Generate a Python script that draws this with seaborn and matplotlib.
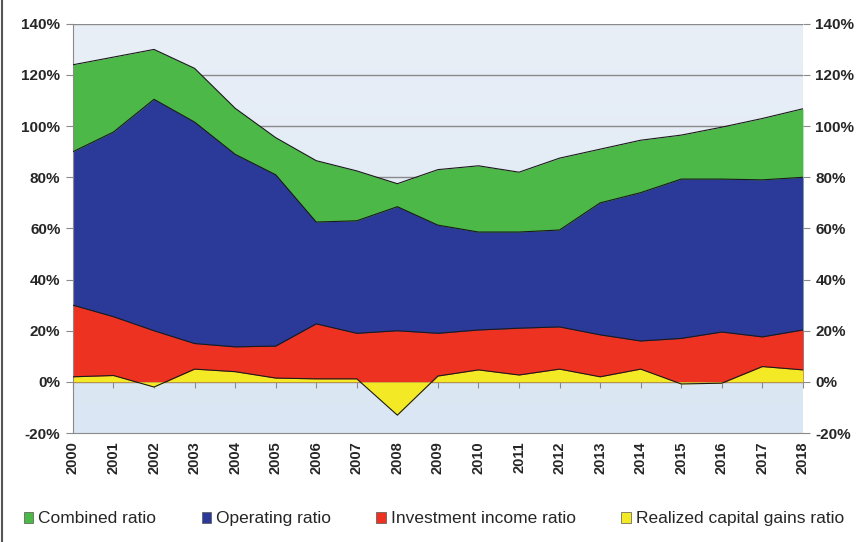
import numpy as np
import pandas as pd
import matplotlib.pyplot as plt
import seaborn as sns
from matplotlib.lines import Line2D
from matplotlib.patches import Patch

# values (percent)
years = list(range(2000, 2019))
combined = [124, 127, 130, 122.6, 107, 95.5, 86.5, 82.5, 77.5, 83, 84.5, 82, 87.5, 91, 94.5, 96.5, 99.6, 103, 106.8]
operating = [90, 97.7, 110.5, 101.6, 89, 81, 62.5, 63, 68.5, 61.3, 58.6, 58.6, 59.4, 70, 74, 79.3, 79.3, 79, 80]
investment = [30, 25.5, 20, 15, 13.7, 14, 22.7, 19, 20, 19, 20.3, 21, 21.5, 18.4, 16, 17, 19.5, 17.6, 20.3]
capital_gains = [2, 2.5, -2, 5, 4, 1.5, 1.2, 1.2, -13, 2.3, 4.7, 2.7, 5, 2, 5, -0.8, -0.5, 6, 4.7]

series_names = ["Combined ratio", "Operating ratio", "Investment income ratio", "Realized capital gains ratio"]
series_colors = ["#4cb848", "#2b3a98", "#ee3222", "#f3ea25"]
y_ticks = [-20, 0, 20, 40, 60, 80, 100, 120, 140]

df = pd.DataFrame({"year": years,
                   series_names[0]: combined,
                   series_names[1]: operating,
                   series_names[2]: investment,
                   series_names[3]: capital_gains})
df["pos"] = np.arange(len(df))

sns.set_style("white")
plt.rcParams["font.family"] = ["Liberation Sans", "DejaVu Sans"]

fig = plt.figure(figsize=(8.68, 5.42), dpi=100)
ax = fig.add_axes([0.084, 0.201, 0.841, 0.755])

# light blue gradient plot background (slightly deeper at the bottom)
grad = np.linspace(0, 1, 256).reshape(-1, 1)
ax.imshow(grad, extent=[0, 1, 0, 1], transform=ax.transAxes, aspect="auto", origin="lower",
          cmap=plt.matplotlib.colors.LinearSegmentedColormap.from_list("bg", ["#dae6f3", "#e9eff7"]),
          zorder=0)

for y in y_ticks[1:]:
    ax.axhline(y, color="#8a8a8a", lw=1, zorder=1)

for name, col in zip(series_names, series_colors):
    ax.fill_between(df["pos"], 0, df[name], color=col, lw=0, zorder=2)
    sns.lineplot(data=df, x="pos", y=name, color="#1a1a1a", lw=0.8, ax=ax, zorder=3)

ax.set_xlim(0, len(years) - 1)
ax.set_ylim(-20, 140)
ax.set_yticks(y_ticks)
ax.set_yticklabels([f"{v}%" for v in y_ticks], fontsize=11, fontweight="bold")
ax.set_xticks(df["pos"])
ax.set_xticklabels([str(y) for y in years], rotation=90, fontsize=10.5, fontweight="bold")
ax.tick_params(axis="x", length=0, pad=6)
ax.tick_params(axis="y", length=5, color="#8a8a8a", direction="out", left=True, pad=4)
ax.set_xlabel("")
ax.set_ylabel("")
for s in ["top", "right"]:
    ax.spines[s].set_visible(False)
for s in ["left", "bottom"]:
    ax.spines[s].set_color("#8a8a8a")

# category tick marks sit on the 0% line
sec = ax.secondary_xaxis(20 / 160)
sec.set_xticks(df["pos"])
sec.set_xticklabels([])
sec.tick_params(length=4, color="#8a8a8a", direction="out")
sec.spines["bottom"].set_visible(False)

ax2 = ax.twinx()
ax2.set_ylim(-20, 140)
ax2.set_yticks(y_ticks)
ax2.set_yticklabels([f"{v}%" for v in y_ticks], fontsize=11, fontweight="bold")
ax2.tick_params(axis="y", length=5, color="#8a8a8a", direction="out", right=True, pad=4)
for s in ax2.spines.values():
    s.set_visible(False)

handles = [Patch(facecolor=c, edgecolor="#555555", lw=0.5) for c in series_colors]
fig.legend(handles, series_names, loc="lower center", bbox_to_anchor=(0.5, 0.0), ncol=4,
           frameon=False, fontsize=12.5, handlelength=0.55, handleheight=0.6, handletextpad=0.3,
           columnspacing=2.6)

fig.add_artist(Line2D([0.002, 0.002], [0, 1], transform=fig.transFigure, color="#555555", lw=1.5))

fig.savefig("out.png", dpi=100)
